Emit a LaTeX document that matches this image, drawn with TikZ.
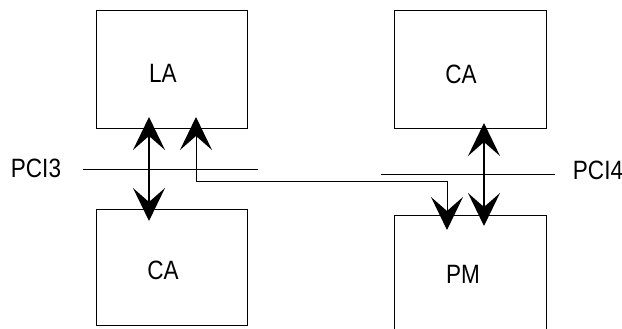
\documentclass[tikz,border=0pt]{standalone}
\usepackage{fontspec}
\setmainfont{Liberation Sans}
\newfontfamily\lblfont[FakeStretch=0.85]{Liberation Sans}
\usetikzlibrary{arrows.meta}
\begin{document}
\begin{tikzpicture}[x=1pt,y=-1pt,
  box/.style={draw, line width=1pt, inner sep=0pt},
  lbl/.style={font=\lblfont\fontsize{26.5}{30}\selectfont, inner sep=0pt},
  bus/.style={line width=0.9pt},
  link/.style={line width=2pt, {Stealth[length=33pt,width=32pt,inset=14pt]}-{Stealth[length=33pt,width=32pt,inset=14pt]}},
  route/.style={line width=1pt, {Stealth[length=33pt,width=32pt,inset=14pt]}-{Stealth[length=33pt,width=32pt,inset=14pt]}}]
  \clip (0,0) rectangle (622,329);
  \useasboundingbox (0,0) rectangle (622,329);

  % boxes
  \node[box, minimum width=151pt, minimum height=118pt] (la)  at (171.5,70) {};
  \node[box, minimum width=151pt, minimum height=116pt] (cal) at (171.5,267) {};
  \node[box, minimum width=152pt, minimum height=118pt] (car) at (470,70) {};
  \node[box, minimum width=152pt, minimum height=125pt] (pm)  at (470,277.5) {};

  % box labels
  \node[lbl] (lalbl)  at (163,73.3)  {LA};
  \node[lbl] (callbl) at (163,270.7) {CA};
  \node[lbl] (carlbl) at (461,74)    {CA};
  \node[lbl] (pmlbl)  at (463,274)   {PM};

  % bus labels and bus lines
  \node[lbl] (pci3) at (36,168)  {PCI3};
  \node[lbl] (pci4) at (598,170) {PCI4};
  \coordinate (b3a) at (83,169);
  \coordinate (b3b) at (258,169);
  \coordinate (b4a) at (381,174);
  \coordinate (b4b) at (555,174);
  \draw[bus] (b3a) -- (b3b);
  \draw[bus] (b4a) -- (b4b);

  % arrow end points
  \coordinate (l1) at (149,117);
  \coordinate (l2) at (149,221);
  \coordinate (r1) at (484,123);
  \coordinate (r2) at (484,226);
  \coordinate (x1) at (196,117);
  \coordinate (x2) at (447,230);
  \coordinate (xb) at (196,181);

  \draw[link] (l1) -- (l2);
  \draw[link] (r1) -- (r2);
  \draw[route] (x1) -- (xb) -| (x2);
\end{tikzpicture}
\end{document}
